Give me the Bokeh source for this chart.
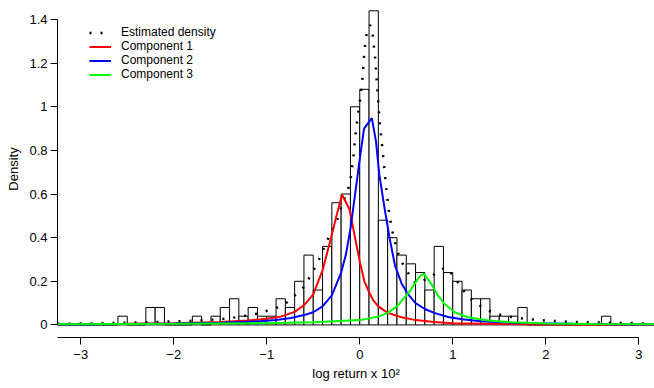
import numpy as np
from bokeh.plotting import figure
from bokeh.models import (ColumnDataSource, FixedTicker, Range1d, Legend, LegendItem)
from bokeh.embed import file_html
from bokeh.resources import INLINE

# ---- data ----
bin_start = -3.3
bin_width = 0.1
hist_density = [0, 0, 0, 0, 0, 0, 0, 0.04, 0, 0, 0.08, 0.08, 0, 0, 0, 0.04, 0, 0.04,
                0.08, 0.12, 0.04, 0.08, 0.04, 0.04, 0.12, 0.08, 0.20, 0.32, 0.16, 0.36,
                0.56, 0.60, 1.00, 1.08, 1.44, 0.48, 0.40, 0.32, 0.28, 0.24, 0.16, 0.36,
                0.24, 0.20, 0.16, 0.12, 0.12, 0.04, 0.04, 0.04, 0.08, 0, 0, 0, 0, 0, 0,
                0, 0, 0.04, 0, 0, 0]

dens_x = [-3.25, -3.0, -2.5, -2.26, -2.04, -1.69, -1.56, -1.46, -1.33, -1.22, -1.11, -0.99,
          -0.88, -0.78, -0.70, -0.61, -0.55, -0.495, -0.44, -0.35, -0.30, -0.244, -0.19,
          -0.13, -0.10, -0.069, -0.047, -0.022, 0.0, 0.025, 0.05, 0.078, 0.114, 0.14,
          0.165, 0.19, 0.215, 0.25, 0.283, 0.308, 0.344, 0.40, 0.437, 0.498, 0.552, 0.605,
          0.667, 0.774, 0.86, 0.93, 0.968, 1.035, 1.10, 1.17, 1.26, 1.36, 1.47, 1.58, 1.70,
          1.81, 1.92, 2.04, 2.27, 2.50, 2.74, 2.97, 3.10]
dens_y = [0.005, 0.006, 0.010, 0.012, 0.016, 0.020, 0.025, 0.028, 0.035, 0.043, 0.051, 0.066,
          0.081, 0.104, 0.135, 0.170, 0.211, 0.252, 0.298, 0.386, 0.432, 0.478, 0.554,
          0.615, 0.664, 0.765, 0.867, 0.958, 1.020, 1.106, 1.253, 1.350, 1.375, 1.328,
          1.225, 1.076, 0.928, 0.780, 0.635, 0.536, 0.440, 0.344, 0.298, 0.254, 0.216, 0.190,
          0.200, 0.222, 0.254, 0.262, 0.246, 0.208, 0.167, 0.127, 0.097, 0.070, 0.051, 0.040,
          0.032, 0.026, 0.023, 0.019, 0.014, 0.011, 0.010, 0.008, 0.005]

comp1_x = [-3.25, -2.5, -2.0, -1.5, -1.2, -1.0, -0.85, -0.7, -0.6, -0.5, -0.4, -0.32, -0.25,
           -0.19, -0.11, -0.06, 0.0, 0.05, 0.1, 0.15, 0.2, 0.3, 0.45, 0.6, 0.8, 1.0, 1.5,
           2.0, 3.17]
comp1_y = [0.003, 0.005, 0.008, 0.013, 0.020, 0.028, 0.038, 0.060, 0.090, 0.140, 0.250,
           0.380, 0.500, 0.597, 0.530, 0.420, 0.290, 0.200, 0.150, 0.110, 0.085, 0.055,
           0.035, 0.022, 0.013, 0.008, 0.004, 0.002, 0.001]

comp2_x = [-3.25, -2.5, -2.0, -1.5, -1.1, -0.9, -0.74, -0.6, -0.5, -0.4, -0.3, -0.2, -0.15,
           -0.1, -0.05, 0.0, 0.046, 0.13, 0.175, 0.21, 0.265, 0.32, 0.38, 0.45, 0.52, 0.6,
           0.7, 0.8, 0.95, 1.1, 1.3, 1.6, 1.9, 2.3, 2.9, 3.17]
comp2_y = [0.002, 0.004, 0.006, 0.010, 0.016, 0.022, 0.032, 0.045, 0.058, 0.085, 0.135,
           0.240, 0.320, 0.440, 0.600, 0.760, 0.900, 0.948, 0.840, 0.690, 0.540, 0.400,
           0.270, 0.190, 0.140, 0.100, 0.073, 0.055, 0.036, 0.026, 0.017, 0.011, 0.008,
           0.005, 0.002, 0.002]

comp3_x = [-3.25, -2.0, -1.0, -0.5, 0.0, 0.2, 0.3, 0.4, 0.5, 0.55, 0.6, 0.65, 0.69, 0.77,
           0.84, 0.91, 1.02, 1.16, 1.38, 1.63, 2.0, 2.5, 3.17]
comp3_y = [0.003, 0.005, 0.008, 0.012, 0.022, 0.038, 0.055, 0.085, 0.135, 0.162, 0.195,
           0.225, 0.234, 0.188, 0.135, 0.097, 0.058, 0.035, 0.020, 0.012, 0.007, 0.004,
           0.003]

x_ticks = [-3, -2, -1, 0, 1, 2, 3]
x_tick_labels = ["\u22123", "\u22122", "\u22121", "0", "1", "2", "3"]
y_ticks = [0, 0.2, 0.4, 0.6, 0.8, 1.0, 1.2, 1.4]
y_tick_labels = ["0", "0.2", "0.4", "0.6", "0.8", "1", "1.2", "1.4"]

legend_labels = ["Estimated density", "Component 1", "Component 2", "Component 3"]

FONT = "Liberation Sans"

# ---- figure ----
p = figure(width=654, height=388, output_backend="svg", toolbar_location=None,
           x_range=Range1d(-3.25, -3.25 + 597 / 93.0),
           y_range=Range1d(-0.0577, -0.0577 + 337 / 218.14),
           min_border_left=57, min_border_right=0, min_border_top=0, min_border_bottom=51)
p.outline_line_color = None
p.xgrid.grid_line_color = None
p.ygrid.grid_line_color = None
p.background_fill_color = "white"
p.border_fill_color = "white"

n = len(hist_density)
lefts = [round(bin_start + i * bin_width, 2) for i in range(n)]
rights = [round(l + bin_width, 2) for l in lefts]
hsrc = ColumnDataSource(dict(left=lefts, right=rights, top=hist_density, bottom=[0] * n))
p.quad(left="left", right="right", top="top", bottom="bottom", source=hsrc,
       fill_color="white", line_color="black", line_width=1)

r_dens = p.line(dens_x, dens_y, line_color="black", line_width=2.5, line_dash="2 9")
r1 = p.line(comp1_x, comp1_y, line_color="#FF0000", line_width=2)
r2 = p.line(comp2_x, comp2_y, line_color="#0000FF", line_width=2)
r3 = p.line(comp3_x, comp3_y, line_color="#00FF00", line_width=2)

legend = Legend(items=[LegendItem(label=legend_labels[0], renderers=[r_dens]),
                       LegendItem(label=legend_labels[1], renderers=[r1]),
                       LegendItem(label=legend_labels[2], renderers=[r2]),
                       LegendItem(label=legend_labels[3], renderers=[r3])],
                location=(32, 256), orientation="vertical")
legend.border_line_color = None
legend.background_fill_alpha = 0
legend.padding = 0
legend.spacing = 0
legend.margin = 0
legend.glyph_width = 22
legend.glyph_height = 13
legend.label_height = 13
legend.label_standoff = 10
legend.label_text_font = FONT
legend.label_text_font_size = "12px"
legend.label_text_color = "black"
p.add_layout(legend, "center")

# axes
xa = p.xaxis[0]
xa.ticker = FixedTicker(ticks=x_ticks)
xa.major_label_overrides = {t: l for t, l in zip(x_ticks, x_tick_labels)}
xa.bounds = (-3.25, 3)
xa.axis_label = "log return x 10\u00b2"
ya = p.yaxis[0]
ya.ticker = FixedTicker(ticks=y_ticks)
ya.major_label_overrides = {t: l for t, l in zip(y_ticks, y_tick_labels)}
ya.bounds = (0, 1.4)
ya.axis_label = "Density"

for ax in (xa, ya):
    ax.axis_line_color = "black"
    ax.axis_line_width = 1
    ax.major_tick_line_color = "black"
    ax.major_tick_out = 7
    ax.major_tick_in = 0
    ax.minor_tick_line_color = None
    ax.major_label_text_font = FONT
    ax.major_label_text_font_size = "13px"
    ax.major_label_text_color = "black"
    ax.axis_label_text_font = FONT
    ax.axis_label_text_font_size = "13px"
    ax.axis_label_text_font_style = "normal"
    ax.axis_label_text_color = "black"

xa.major_label_standoff = 5
xa.axis_label_standoff = 4
ya.major_label_standoff = 3
ya.axis_label_standoff = 5

open("out.html", "w").write(file_html(p, INLINE))
